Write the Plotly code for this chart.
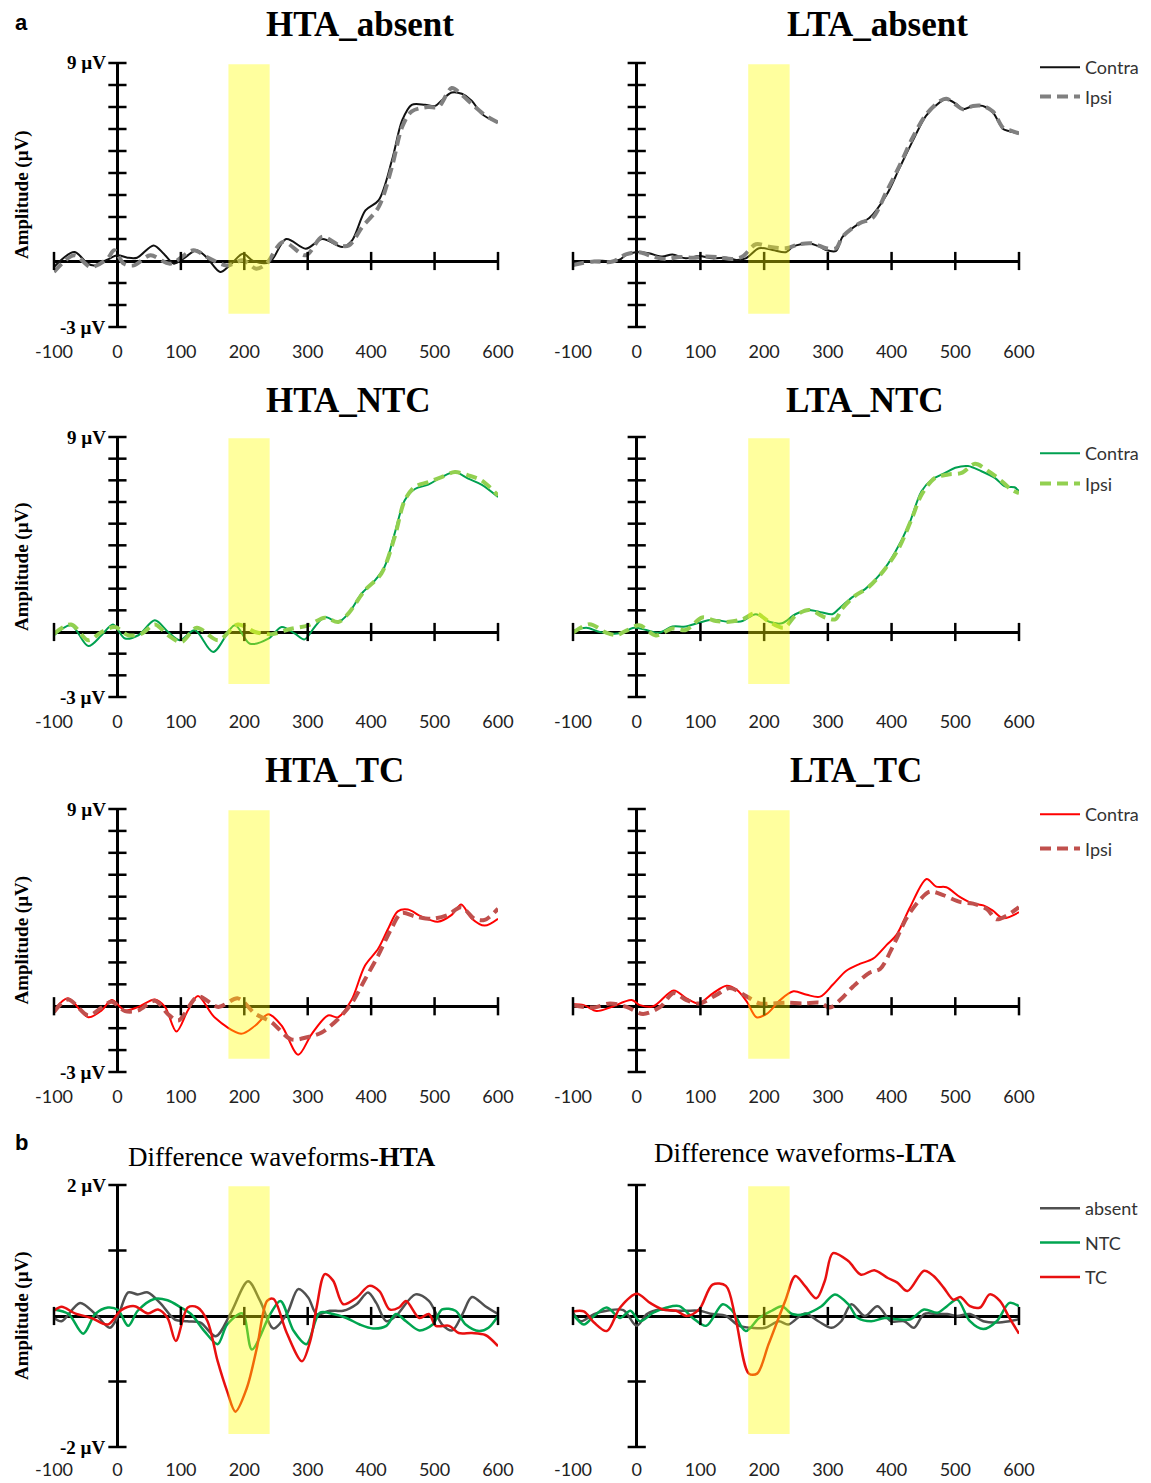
import plotly.graph_objects as go

W, H = 1151, 1483

# ---------------- axes / ticks ----------------
x_ticks = [-100, 0, 100, 200, 300, 400, 500, 600]
amp_ticks = list(range(-3, 10))       # µV, panels a
diff_ticks = [-2, -1, 0, 1, 2]        # µV, panels b
window_ms = [175, 240]                # shaded analysis window

# ---------------- data (ms, µV) ----------------
HTA_absent_contra_t = [-100,-68,-47,-36,-16,0,16,31,57,73,89,104,125,141,162,177,198,214,240,266,297,323,355,370,391,412,433,449,464,485,501,511,527,543,558,574,584,600]
HTA_absent_contra_v = [-0.27,0.41,-0.12,-0.2,0.06,0.26,0.15,0.15,0.71,0.33,-0.12,0.11,0.49,0.15,-0.5,-0.2,0.33,0,-0.05,1.0,0.56,1.0,0.64,0.94,2.3,2.77,4.6,6.4,7.1,7.1,7.05,7.3,7.66,7.6,7.3,6.7,6.5,6.3]
HTA_absent_ipsi_t = [-100,-68,-42,-16,-5,10,26,52,83,120,141,172,198,219,235,261,297,323,350,365,386,412,433,449,464,490,506,527,543,564,579,600]
HTA_absent_ipsi_v = [-0.5,0.26,-0.27,0.1,0.49,-0.12,-0.2,0.26,-0.12,0.49,0.18,-0.2,0.03,-0.35,-0.12,0.87,0.26,1.1,0.71,0.71,1.55,2.46,4.3,6.1,6.8,7.0,7.0,7.86,7.55,7.0,6.64,6.3]

LTA_absent_contra_t = [-100,-70,-28,-17,-2,19,40,56,77,98,119,140,156,171,192,213,234,245,271,287,297,313,323,350,365,392,412,433,454,475,486,501,512,528,543,559,575,585,600]
LTA_absent_contra_v = [-0.1,0,0.05,0.27,0.4,0.35,0.2,0.3,0.12,0.23,0.12,0.15,0.05,0.12,0.58,0.5,0.4,0.65,0.8,0.65,0.5,0.46,1.1,1.72,1.95,3.0,4.2,5.45,6.6,7.2,7.35,7.15,6.9,7.05,7.05,6.75,6.0,5.9,5.8]
LTA_absent_ipsi_t = [-100,-70,-38,-17,4,25,46,67,88,108,129,150,166,187,208,234,255,276,297,313,323,350,370,392,412,433,454,475,486,501,512,528,543,559,575,585,600]
LTA_absent_ipsi_v = [-0.18,-0.03,-0.03,0.3,0.4,0.2,0.09,0.18,0.15,0.2,0.17,0.09,0.2,0.76,0.65,0.58,0.76,0.8,0.58,0.58,1.1,1.72,1.95,3.15,4.3,5.6,6.65,7.25,7.38,7.1,6.9,7.05,7.05,6.8,6.05,5.95,5.8]

HTA_NTC_contra_t = [-100,-73,-46,-25,-7,12,33,59,80,98,122,151,185,209,238,259,280,295,311,327,348,364,385,406,421,437,453,469,490,511,532,553,574,600]
HTA_NTC_contra_v = [-0.15,0.31,-0.65,-0.15,0.35,-0.3,-0.15,0.54,0,-0.38,0.08,-0.92,0.31,-0.54,-0.31,0.23,-0.08,-0.34,0.23,0.69,0.46,0.85,1.77,2.38,3.0,4.54,6.08,6.6,6.8,7.15,7.38,7.08,6.8,6.23]
HTA_NTC_ipsi_t = [-100,-73,-46,-25,-4,17,38,59,80,101,125,159,190,217,243,274,301,327,348,364,390,416,437,453,469,490,511,532,553,574,600]
HTA_NTC_ipsi_v = [-0.08,0.35,-0.38,0,0.23,-0.15,-0.08,0.35,-0.15,-0.46,0.2,-0.38,0.35,0,-0.1,0.15,0.31,0.66,0.46,0.85,1.92,2.69,4.38,6.08,6.7,6.92,7.15,7.38,7.23,7.0,6.3]

LTA_NTC_contra_t = [-100,-79,-58,-27,-4,15,35,56,77,98,119,145,166,187,208,228,249,270,291,307,317,338,359,385,406,427,447,463,484,500,520,541,562,578,593,600]
LTA_NTC_contra_v = [0.05,0.2,0,-0.06,0.2,0.09,-0.03,0.25,0.25,0.43,0.56,0.47,0.51,0.82,0.47,0.4,0.82,1.02,0.9,0.82,1.06,1.6,1.99,2.76,3.7,4.94,6.5,7.03,7.34,7.58,7.66,7.42,7.11,6.72,6.68,6.5]
LTA_NTC_ipsi_t = [-100,-74,-48,-32,-17,4,30,56,77,103,124,145,166,187,208,231,249,270,296,312,322,343,364,390,411,432,447,468,489,510,531,552,573,588,600]
LTA_NTC_ipsi_v = [-0.03,0.36,-0.03,-0.14,0.05,0.31,-0.16,0.16,0.09,0.67,0.51,0.47,0.59,0.87,0.47,0.2,0.75,1.02,0.67,0.59,1.06,1.68,2.07,2.92,3.85,5.25,6.34,7.11,7.27,7.34,7.76,7.42,6.96,6.57,6.41]

HTA_TC_contra_t = [-100,-78,-46,-25,-9,12,33,59,75,93,111,127,153,195,217,238,259,285,306,332,348,369,390,411,427,442,458,479,505,527,542,558,579,600]
HTA_TC_contra_v = [-0.19,0.36,-0.5,-0.19,0.28,-0.19,-0.03,0.31,-0.03,-1.15,-0.19,0.47,-0.5,-1.25,-0.89,-0.37,-0.89,-2.21,-1.28,-0.42,-0.5,0.28,1.84,2.62,3.55,4.33,4.41,4.1,3.86,4.17,4.64,4.02,3.68,3.99]
HTA_TC_ipsi_t = [-100,-78,-46,-25,-9,12,33,59,80,96,127,159,190,217,243,274,301,322,348,369,390,411,432,448,469,495,521,542,563,579,600]
HTA_TC_ipsi_v = [-0.26,0.31,-0.42,-0.06,0.2,-0.22,-0.19,0.25,-0.37,-0.65,0.44,-0.03,0.36,-0.34,-0.73,-1.51,-1.4,-1.2,-0.58,0.12,1.21,2.31,3.55,4.25,4.1,3.99,4.17,4.52,3.99,3.94,4.45]

LTA_TC_contra_t = [-100,-83,-63,-42,-8,5,26,58,78,97,120,141,157,173,188,204,225,246,267,288,308,329,350,371,392,408,429,455,470,486,507,528,544,559,575,600]
LTA_TC_contra_v = [0.09,0.05,-0.22,-0.06,0.28,0.05,0,0.72,0.36,0.13,0.6,0.94,0.75,0.2,-0.5,-0.35,0.28,0.68,0.52,0.44,0.99,1.62,1.93,2.17,2.79,3.27,4.52,5.81,5.46,5.43,4.99,4.68,4.6,4.36,4.02,4.29]
LTA_TC_ipsi_t = [-100,-68,-42,-16,10,37,58,78,99,125,146,173,193,214,235,261,288,303,319,340,366,382,403,424,444,460,481,507,528,549,565,580,600]
LTA_TC_ipsi_v = [0.05,-0.06,0.13,-0.03,-0.35,-0.03,0.6,0.28,0.13,0.52,0.83,0.44,0.13,0.13,0.16,0.13,0.16,-0.06,0.28,0.91,1.54,1.7,2.79,4.05,4.84,5.23,5.07,4.76,4.68,4.44,3.97,4.13,4.52]

diff_HTA_absent_t = [-100,-88,-59,-35,-12,1,17,32,48,69,90,110,131,155,178,206,225,246,267,285,301,314,335,356,377,395,408,424,439,470,491,512,528,544,559,580,600]
diff_HTA_absent_v = [-0.03,-0.08,0.2,0.03,-0.18,0,0.36,0.33,0.36,0.18,-0.05,-0.08,-0.1,-0.31,0.03,0.53,0.23,-0.19,0.03,0.41,0.28,0.03,0.08,0.08,0.18,0.36,0.2,-0.08,0,0.33,0.23,-0.13,-0.22,0.03,0.29,0.15,0.03]
diff_HTA_NTC_t = [-100,-77,-54,-35,-15,1,17,32,58,79,100,116,137,158,173,197,212,241,257,278,298,319,340,361,382,403,424,439,455,476,497,512,533,549,570,585,600]
diff_HTA_NTC_v = [0.1,0.03,-0.27,0.03,0.13,0.09,-0.15,0.08,0.26,0.24,0.13,0.03,-0.23,-0.43,-0.13,0.04,-0.51,0.03,0.23,-0.23,-0.43,0.05,0.03,-0.03,-0.13,-0.19,-0.15,0.03,-0.08,-0.22,-0.13,0.1,0.08,-0.13,-0.23,-0.18,0]
diff_HTA_TC_t = [-100,-88,-67,-41,-15,6,27,48,64,79,92,111,126,142,158,173,186,204,220,236,246,267,291,304,314,327,340,356,377,397,413,429,444,455,476,491,502,523,538,559,580,600]
diff_HTA_TC_v = [0.08,0.14,0.04,-0.03,-0.13,0.09,0.15,0.04,0.1,-0.03,-0.38,0.13,0.13,-0.08,-0.69,-1.15,-1.46,-1.1,-0.48,0.23,0.26,-0.26,-0.69,-0.38,0.13,0.64,0.54,0.18,0.28,0.46,0.38,0.1,0.13,0.23,-0.03,0.03,-0.15,-0.15,-0.26,-0.26,-0.29,-0.46]

diff_LTA_absent_t = [-100,-88,-67,-47,-21,0,16,36,57,78,98,119,140,161,181,202,223,238,264,285,306,321,337,358,378,399,420,435,451,472,487,503,523,544,565,585,600]
diff_LTA_absent_v = [0.05,-0.08,0.03,0.08,0.09,-0.15,0.03,0.1,0.08,0.08,0.08,0.03,0,-0.15,-0.18,-0.18,-0.08,-0.13,0.04,-0.08,-0.18,-0.08,0.18,0,0.15,-0.08,-0.08,-0.18,0.03,0.03,0.03,0,0.03,-0.08,-0.1,-0.08,-0.05]
diff_LTA_NTC_t = [-100,-83,-67,-47,-26,-10,5,26,47,67,88,109,135,150,171,192,212,228,244,264,290,311,332,347,368,389,409,430,451,472,487,503,523,544,565,585,600]
diff_LTA_NTC_v = [0.03,-0.13,0,0.13,-0.03,0.08,-0.08,0.05,0.13,0.15,-0.03,-0.15,0.18,0.08,-0.23,-0.03,0.08,0.15,0.03,0.03,0.15,0.33,0.18,-0.03,-0.08,-0.03,-0.05,-0.05,0.1,0.05,0.15,0.25,-0.08,-0.2,-0.08,0.2,0.15]
diff_LTA_TC_t = [-100,-83,-67,-47,-26,0,21,41,62,78,98,119,140,155,176,189,207,233,249,264,282,295,308,332,352,373,394,409,425,451,466,482,497,508,523,539,554,570,585,600]
diff_LTA_TC_v = [0.07,0.07,-0.1,-0.23,0.13,0.34,0.2,0.1,0.08,0,0.1,0.48,0.46,-0.03,-0.88,-0.88,-0.43,0.23,0.61,0.46,0.27,0.53,0.96,0.84,0.63,0.7,0.58,0.51,0.38,0.69,0.61,0.43,0.25,0.29,0.15,0.13,0.33,0.23,-0.03,-0.27]

# ---------------- styles ----------------
SERIF = "Liberation Serif"
SANS = "Lato"
DASH = "11px,6px"
sty = {
    "absent_contra": dict(color="#111111", width=2),
    "absent_ipsi": dict(color="#808080", width=4, dash=DASH),
    "NTC_contra": dict(color="#00A050", width=2),
    "NTC_ipsi": dict(color="#92D050", width=4, dash=DASH),
    "TC_contra": dict(color="#FF0000", width=2),
    "TC_ipsi": dict(color="#C0504D", width=4, dash=DASH),
    "d_absent": dict(color="#505050", width=2.5),
    "d_NTC": dict(color="#00A550", width=2.5),
    "d_TC": dict(color="#E81010", width=2.5),
}

# pixel geometry -> paper fractions
def px_x(p):
    return p / W

def px_y(p):
    return 1 - p / H

col_x = [(54, 498), (573, 1019)]
row_y = [(63, 327), (437, 697), (809, 1072), (1185, 1447)]
legend_top = [49, 435, 796, 1190]

panels = [
    dict(row=0, col=0, title="<b>HTA_absent</b>", tpos=(360, 25), yr=amp_ticks, legend="legend",
         series=[(HTA_absent_contra_t, HTA_absent_contra_v, "Contra", "absent_contra"),
                 (HTA_absent_ipsi_t, HTA_absent_ipsi_v, "Ipsi", "absent_ipsi")]),
    dict(row=0, col=1, title="<b>LTA_absent</b>", tpos=(877, 25), yr=amp_ticks, legend=None,
         series=[(LTA_absent_contra_t, LTA_absent_contra_v, "Contra", "absent_contra"),
                 (LTA_absent_ipsi_t, LTA_absent_ipsi_v, "Ipsi", "absent_ipsi")]),
    dict(row=1, col=0, title="<b>HTA_NTC</b>", tpos=(348, 400), yr=amp_ticks, legend="legend2",
         series=[(HTA_NTC_contra_t, HTA_NTC_contra_v, "Contra", "NTC_contra"),
                 (HTA_NTC_ipsi_t, HTA_NTC_ipsi_v, "Ipsi", "NTC_ipsi")]),
    dict(row=1, col=1, title="<b>LTA_NTC</b>", tpos=(865, 400), yr=amp_ticks, legend=None,
         series=[(LTA_NTC_contra_t, LTA_NTC_contra_v, "Contra", "NTC_contra"),
                 (LTA_NTC_ipsi_t, LTA_NTC_ipsi_v, "Ipsi", "NTC_ipsi")]),
    dict(row=2, col=0, title="<b>HTA_TC</b>", tpos=(334, 771), yr=amp_ticks, legend="legend3",
         series=[(HTA_TC_contra_t, HTA_TC_contra_v, "Contra", "TC_contra"),
                 (HTA_TC_ipsi_t, HTA_TC_ipsi_v, "Ipsi", "TC_ipsi")]),
    dict(row=2, col=1, title="<b>LTA_TC</b>", tpos=(856, 771), yr=amp_ticks, legend=None,
         series=[(LTA_TC_contra_t, LTA_TC_contra_v, "Contra", "TC_contra"),
                 (LTA_TC_ipsi_t, LTA_TC_ipsi_v, "Ipsi", "TC_ipsi")]),
    dict(row=3, col=0, title="Difference waveforms-<b>HTA</b>", tpos=(282, 1157), yr=diff_ticks, legend="legend4",
         series=[(diff_HTA_absent_t, diff_HTA_absent_v, "absent", "d_absent"),
                 (diff_HTA_NTC_t, diff_HTA_NTC_v, "NTC", "d_NTC"),
                 (diff_HTA_TC_t, diff_HTA_TC_v, "TC", "d_TC")]),
    dict(row=3, col=1, title="Difference waveforms-<b>LTA</b>", tpos=(805, 1153), yr=diff_ticks, legend=None,
         series=[(diff_LTA_absent_t, diff_LTA_absent_v, "absent", "d_absent"),
                 (diff_LTA_NTC_t, diff_LTA_NTC_v, "NTC", "d_NTC"),
                 (diff_LTA_TC_t, diff_LTA_TC_v, "TC", "d_TC")]),
]

fig = go.Figure()
annotations = []
shapes = []
layout = {}

for i, p in enumerate(panels, start=1):
    xa = "x" if i == 1 else f"x{i}"
    ya = "y" if i == 1 else f"y{i}"
    xkey = "xaxis" if i == 1 else f"xaxis{i}"
    ykey = "yaxis" if i == 1 else f"yaxis{i}"
    x0p, x1p = col_x[p["col"]]
    ytop, ybot = row_y[p["row"]]
    yr = p["yr"]
    layout[xkey] = dict(
        domain=[px_x(x0p), px_x(x1p)], range=[x_ticks[0], x_ticks[-1]], anchor=ya,
        tickvals=x_ticks, ticktext=[str(t) for t in x_ticks],
        ticks="outside", ticklen=8 if p["row"] < 3 else 6, tickcolor="rgba(0,0,0,0)",
        tickfont=dict(family=SANS, size=18, color="#222"),
        showgrid=False, showline=False, zeroline=True, zerolinecolor="black", zerolinewidth=3,
        fixedrange=True, automargin=False,
    )
    layout[ykey] = dict(
        domain=[px_y(ybot), px_y(ytop)], range=[yr[0], yr[-1]], anchor=xa,
        showticklabels=False, ticks="", showgrid=False, showline=False,
        zeroline=True, zerolinecolor="black", zerolinewidth=3, fixedrange=True, automargin=False,
    )

    # curves
    for (t, v, name, sk) in p["series"]:
        show = p["legend"] is not None
        tr = dict(x=t, y=v, mode="lines", name=name, line=dict(shape="spline", smoothing=0.9, **sty[sk]),
                  xaxis=xa, yaxis=ya, showlegend=show, hoverinfo="skip",
                  legendgroup=f"{p['legend']}_{name}" if show else None)
        if show:
            tr["legend"] = p["legend"]
        fig.add_trace(go.Scatter(**tr))

    # tick marks crossing the axes
    xt = [t for t in x_ticks if t != 0]
    fig.add_trace(go.Scatter(x=xt, y=[0] * len(xt), mode="markers", xaxis=xa, yaxis=ya,
                             marker=dict(symbol="line-ns", size=13, color="black", line=dict(width=2.5, color="black")),
                             cliponaxis=False, showlegend=False, hoverinfo="skip"))
    yt = [v for v in yr if v != 0]
    fig.add_trace(go.Scatter(x=[0] * len(yt), y=yt, mode="markers", xaxis=xa, yaxis=ya,
                             marker=dict(symbol="line-ew", size=13, color="black", line=dict(width=2.5, color="black")),
                             cliponaxis=False, showlegend=False, hoverinfo="skip"))

    # shaded window
    shapes.append(dict(type="rect", xref=xa, yref=f"{ya} domain", x0=window_ms[0], x1=window_ms[1],
                       y0=0.05, y1=0.995, fillcolor="rgb(255,255,0)", opacity=0.38, line=dict(width=0),
                       layer="above"))

    # title
    tx, ty = p["tpos"]
    annotations.append(dict(text=p["title"], xref="paper", yref="paper", x=px_x(tx), y=px_y(ty),
                            xanchor="center", yanchor="middle", showarrow=False,
                            font=dict(family=SERIF, size=35 if p["row"] < 3 else 27, color="black")))

    if p["col"] == 0:
        unit = "µV"
        for val in (yr[-1], yr[0]):
            annotations.append(dict(text=f"<b>{val} {unit}</b>", xref=xa, yref=ya, x=0, y=val,
                                    xanchor="right", yanchor="middle", xshift=-9, showarrow=False,
                                    font=dict(family=SERIF, size=19, color="black")))
        annotations.append(dict(text="<b>Amplitude (µV)</b>", xref="paper", yref="paper",
                                x=px_x(22), y=px_y((ytop + ybot) / 2), textangle=-90,
                                xanchor="center", yanchor="middle", showarrow=False,
                                font=dict(family=SERIF, size=19, color="black")))

# panel letters
annotations.append(dict(text="<b>a</b>", xref="paper", yref="paper", x=px_x(21), y=px_y(22),
                        xanchor="center", yanchor="middle",
                        showarrow=False, font=dict(family="Liberation Sans", size=22, color="black")))
annotations.append(dict(text="<b>b</b>", xref="paper", yref="paper", x=px_x(21), y=px_y(1142),
                        xanchor="center", yanchor="middle",
                        showarrow=False, font=dict(family="Liberation Sans", size=22, color="black")))

leg_common = dict(xanchor="left", yanchor="top", bgcolor="rgba(0,0,0,0)", borderwidth=0,
                  font=dict(family=SANS, size=18, color="#333"), itemwidth=40)
layout["legend"] = dict(x=px_x(1035), y=px_y(legend_top[0]), tracegroupgap=3, **leg_common)
layout["legend2"] = dict(x=px_x(1035), y=px_y(legend_top[1]), tracegroupgap=4, **leg_common)
layout["legend3"] = dict(x=px_x(1035), y=px_y(legend_top[2]), tracegroupgap=8, **leg_common)
layout["legend4"] = dict(x=px_x(1035), y=px_y(legend_top[3]), tracegroupgap=8, **leg_common)

fig.update_layout(width=W, height=H, margin=dict(l=0, r=0, t=0, b=0, autoexpand=False),
                  paper_bgcolor="white", plot_bgcolor="rgba(0,0,0,0)",
                  annotations=annotations, shapes=shapes, **layout)

fig.write_html("out.html")
